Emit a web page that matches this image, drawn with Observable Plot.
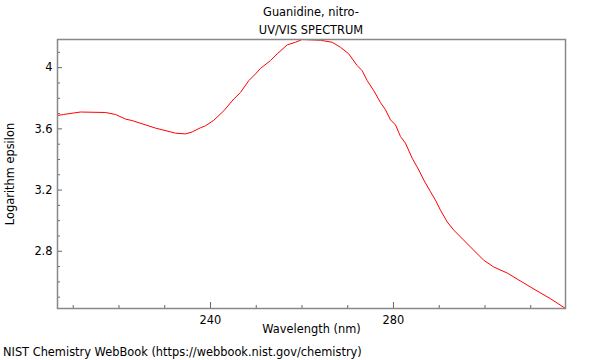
<!DOCTYPE html>
<html>
<head>
<meta charset="utf-8">
<script src="https://cdn.jsdelivr.net/npm/d3@7"></script>
<script src="https://cdn.jsdelivr.net/npm/@observablehq/plot@0.6"></script>
<style>
  html, body { margin: 0; padding: 0; background: #fff; }
  #wrap { width: 600px; height: 360px; font-family: "DejaVu Sans", sans-serif; font-size: 11.4px; color: #000; }
  #title { height: 38px; box-sizing: border-box; padding-top: 3px; padding-left: 57px; padding-right: 35px; text-align: center; line-height: 18px; font-size: 11.4px; }
  #caption { height: 22px; box-sizing: border-box; padding-top: 5px; padding-left: 3px; line-height: 18px; font-size: 11.4px; white-space: nowrap; }
  svg { display: block; }
</style>
</head>
<body>
<div id="wrap">
  <div id="title"></div>
  <div id="chart"></div>
  <div id="caption"></div>
</div>
<script>
const titleLines = ["Guanidine, nitro-", "UV/VIS SPECTRUM"];
const captionText = "NIST Chemistry WebBook (https://webbook.nist.gov/chemistry)";
const xLabel = "Wavelength (nm)";
const yLabel = "Logarithm epsilon";

const wavelength = [
  206.56, 207.87, 211.58, 217.05, 219.24, 221.42, 222.89, 227.98, 232.35, 234.54,
  236.0, 237.81, 238.91, 240.72, 242.91, 245.09, 246.56, 248.37, 249.84, 250.93,
  253.11, 254.58, 256.77, 258.58, 260.04, 264.04, 266.6, 268.42, 270.23, 272.07,
  273.16, 274.25, 275.7, 277.16, 278.25, 279.34, 280.44, 281.53, 282.62, 284.09,
  285.53, 286.62, 288.09, 289.18, 290.27, 291.74, 293.18, 294.64, 296.83, 299.74,
  301.93, 304.85, 309.95, 314.32, 317.6
];
const logEpsilon = [
  3.687, 3.694, 3.710, 3.707, 3.694, 3.664, 3.654, 3.605, 3.572, 3.567,
  3.580, 3.607, 3.620, 3.656, 3.718, 3.795, 3.838, 3.915, 3.959, 3.995,
  4.046, 4.090, 4.149, 4.166, 4.184, 4.179, 4.166, 4.133, 4.090, 4.013,
  3.980, 3.915, 3.849, 3.772, 3.725, 3.659, 3.626, 3.550, 3.506, 3.408,
  3.331, 3.266, 3.189, 3.134, 3.069, 2.992, 2.938, 2.894, 2.828, 2.741,
  2.697, 2.658, 2.566, 2.490, 2.426
];

const xMajor = [240, 280];
const xMinor = [210, 220, 230, 250, 260, 270, 290, 300, 310];
const yMajor = [2.8, 3.2, 3.6, 4.0];
const yMinor = [2.5, 2.6, 2.7, 2.9, 3.0, 3.1, 3.3, 3.4, 3.5, 3.7, 3.8, 3.9, 4.1];

document.getElementById("title").innerHTML = titleLines.map(t => `<div>${t}</div>`).join("");
document.getElementById("caption").textContent = captionText;

const data = wavelength.map((w, i) => ({w, v: logEpsilon[i]}));

const plot = Plot.plot({
  width: 600,
  height: 300,
  marginTop: 1,
  marginBottom: 30,
  marginLeft: 57,
  marginRight: 35,
  style: {fontFamily: "DejaVu Sans, sans-serif", fontSize: "11.4px", color: "#000", background: "#fff"},
  x: {domain: d3.extent(wavelength)},
  y: {domain: d3.extent(logEpsilon)},
  marks: [
    Plot.line(data, {x: "w", y: "v", stroke: "#ff0000", strokeWidth: 1}),
    Plot.axisX({ticks: xMajor, tickSize: -6, text: null, label: null, stroke: "#666"}),
    Plot.axisX({ticks: xMinor, tickSize: -3, text: null, label: null, stroke: "#666"}),
    Plot.axisX({ticks: xMajor, tickSize: 0, tickPadding: 7, label: null, tickFormat: d => String(d), fill: "#000"}),
    Plot.axisY({ticks: yMajor, tickSize: -5, text: null, label: null, stroke: "#666"}),
    Plot.axisY({ticks: yMinor, tickSize: -3, text: null, label: null, stroke: "#666"}),
    Plot.axisY({ticks: yMajor, tickSize: 0, tickPadding: 5, label: null, tickFormat: d => d === 4 ? "4" : d3.format(".1f")(d), fill: "#000"}),
    Plot.frame({stroke: "#888", strokeWidth: 1.5}),
    Plot.text([xLabel], {text: d => d, frameAnchor: "bottom", dy: 24, fill: "#000"}),
    Plot.text([yLabel], {text: d => d, frameAnchor: "left", dx: -47, rotate: -90, textAnchor: "middle", fill: "#000"})
  ]
});
document.getElementById("chart").appendChild(plot);
</script>
</body>
</html>
